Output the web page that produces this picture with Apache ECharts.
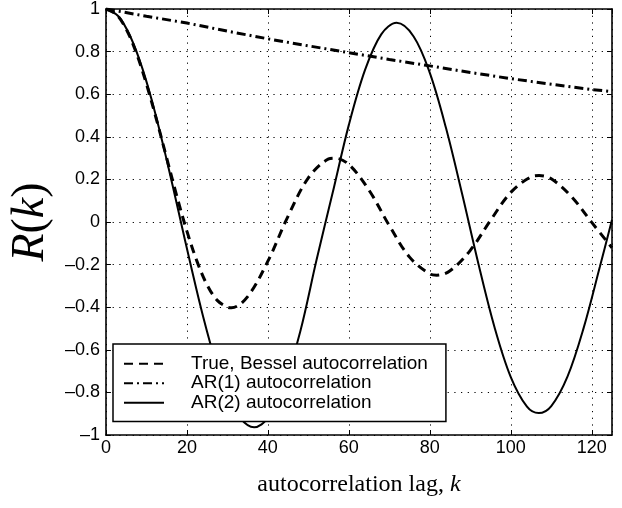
<!DOCTYPE html>
<html>
<head>
<meta charset="utf-8">
<script src="https://cdn.jsdelivr.net/npm/echarts@6/dist/echarts.min.js"></script>
<style>
html,body{margin:0;padding:0;background:#fff;}
#chart{width:622px;height:508px;}
</style>
</head>
<body>
<div id="chart"></div>
<script>
// ---- data ----
const lagBessel = [0,2.5,5,7.5,10,12.5,15,17.5,20,22.5,25,27.5,30,31,35,40,45,50,55,56.5,60,65,70,75,80,81.7,85,90,95,100,105,107,110,115,120,125];
const besselR   = [1,0.976,0.906,0.794,0.648,0.480,0.301,0.122,-0.043,-0.185,-0.296,-0.368,-0.400,-0.403,-0.350,-0.184,0.028,0.207,0.296,0.300,0.270,0.149,-0.017,-0.165,-0.244,-0.250,-0.229,-0.133,0.008,0.139,0.212,0.218,0.203,0.119,-0.002,-0.121];

const lagAR1 = [0,10,20,30,40,50,60,70,80,90,100,110,120,125];
const ar1R   = [1,0.966,0.934,0.896,0.860,0.827,0.795,0.763,0.733,0.702,0.673,0.647,0.622,0.612];

const lagAR2 = [0,3,6,9,12,15,18,21,24,27,30,33,36.6,40,44,48,52,56,60,64,68,71.8,76,80,84,88,92,96,100,104,106.9,110,114,118,122,125];
const ar2R   = [1,0.967,0.872,0.721,0.524,0.292,0.043,-0.207,-0.444,-0.650,-0.812,-0.917,-0.964,-0.920,-0.765,-0.514,-0.180,0.137,0.456,0.714,0.881,0.935,0.871,0.700,0.441,0.130,-0.196,-0.495,-0.728,-0.867,-0.897,-0.864,-0.726,-0.497,-0.210,0.010];

const seriesNames = ['True, Bessel autocorrelation','AR(1) autocorrelation','AR(2) autocorrelation'];
const xMin = 0, xMax = 125, xStep = 20;
const yMin = -1, yMax = 1, yStep = 0.2;

function pairs(xs, ys){ return xs.map((x,i)=>[x, ys[i]]); }

const sans = 'Liberation Sans, Arial, Helvetica, sans-serif';
const serif = 'Liberation Serif, Times New Roman, serif';

const chart = echarts.init(document.getElementById('chart'), null, {renderer:'canvas'});

const axisLineStyle = {show:true, onZero:false, lineStyle:{color:'#000', width:1.6}};
const gridLine = {show:true, lineStyle:{color:'#000', width:1, type:[1.2,5.5]}};
const tickStyle = {show:true, inside:true, length:5, lineStyle:{color:'#000', width:1}};

chart.setOption({
  animation:false,
  backgroundColor:'#fff',
  grid:{left:97, right:10, top:6, bottom:73, containLabel:false},
  xAxis:[{
    type:'value', min:xMin, max:xMax, interval:xStep, position:'bottom',
    axisLine:axisLineStyle, axisTick:tickStyle,
    axisLabel:{show:true, margin:4, color:'#000', fontFamily:sans, fontSize:18, showMaxLabel:false,
      formatter:v=> (Math.abs(v-125)<1e-6 ? '' : String(Math.round(v)))},
    splitLine:gridLine,
    name:'{t|autocorrelation lag, }{i|k}',
    nameLocation:'middle', nameGap:38,
    nameTextStyle:{rich:{
      t:{fontFamily:serif, fontSize:24, color:'#000'},
      i:{fontFamily:serif, fontSize:24, fontStyle:'italic', color:'#000'}
    }}
  },{
    type:'value', min:xMin, max:xMax, interval:xStep, position:'top',
    axisLine:axisLineStyle, axisTick:tickStyle,
    axisLabel:{show:false}, splitLine:{show:false}
  }],
  yAxis:[{
    type:'value', min:yMin, max:yMax, interval:yStep, position:'left',
    axisLine:axisLineStyle, axisTick:tickStyle,
    axisLabel:{show:true, margin:6, color:'#000', fontFamily:sans, fontSize:18,
      formatter:v=>{ const r=Math.round(v*10)/10; if(r===0) return '0'; return (r<0?'\u2013':'') + String(Math.abs(r)); }},
    splitLine:gridLine,
    name:'{i|R}{t|(}{i|k}{t|)}',
    nameLocation:'middle', nameGap:50, nameRotate:90,
    nameTextStyle:{rich:{
      t:{fontFamily:serif, fontSize:46, color:'#000'},
      i:{fontFamily:serif, fontSize:46, fontStyle:'italic', color:'#000'}
    }}
  },{
    type:'value', min:yMin, max:yMax, interval:yStep, position:'right',
    axisLine:axisLineStyle, axisTick:tickStyle,
    axisLabel:{show:false}, splitLine:{show:false}
  }],
  legend:{
    show:true,
    orient:'vertical', left:113, top:344,
    backgroundColor:'#fff', borderColor:'#000', borderWidth:1.5,
    padding:[10,18,9,10],
    itemWidth:40, itemHeight:14, itemGap:0,
    selectedMode:false,
    itemStyle:{opacity:0, color:'rgba(0,0,0,0)', borderWidth:0},
    textStyle:{fontFamily:sans, fontSize:19, color:'#000', lineHeight:19.5, padding:[0,0,0,22]},
    data:seriesNames
  },
  series:[
    {name:seriesNames[0], type:'line', data:pairs(lagBessel,besselR), smooth:0.35, symbol:'none', showSymbol:false,
     lineStyle:{color:'#000', width:3, type:[9,6]}, itemStyle:{color:'#000'}, z:3},
    {name:seriesNames[1], type:'line', data:pairs(lagAR1,ar1R), smooth:false, symbol:'none', showSymbol:false,
     lineStyle:{color:'#000', width:3, type:[9,4,2,4]}, itemStyle:{color:'#000'}, z:3},
    {name:seriesNames[2], type:'line', data:pairs(lagAR2,ar2R), smooth:0.35, symbol:'none', showSymbol:false,
     lineStyle:{color:'#000', width:2}, itemStyle:{color:'#000'}, z:3}
  ]
});
</script>
</body>
</html>
